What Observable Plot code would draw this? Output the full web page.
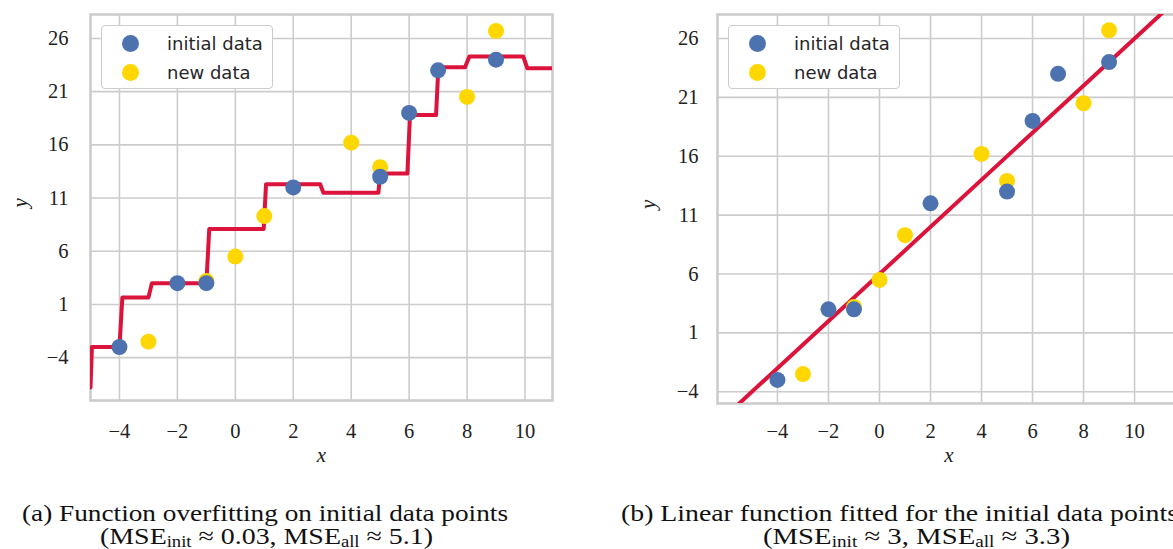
<!DOCTYPE html>
<html>
<head>
<meta charset="utf-8">
<script src="https://cdn.jsdelivr.net/npm/d3@7"></script>
<script src="https://cdn.jsdelivr.net/npm/@observablehq/plot@0.6"></script>
<style>
  html, body { margin: 0; padding: 0; background: #fff; overflow: hidden; }
  #root { position: relative; width: 1173px; height: 549px; overflow: hidden; }
  .panel { position: absolute; top: 0; }
  .legend {
    position: absolute; top: 25px; width: 170px; height: 62px;
    border: 1.5px solid #cccccc; border-radius: 4px; background: #fff;
    font-family: "DejaVu Sans", sans-serif; font-size: 18px; color: #262626;
  }
  .legend .row { position: absolute; left: 0; height: 20px; }
  .legend .sw { position: absolute; left: 20px; width: 17px; height: 17px; border-radius: 50%; top: -8.5px; }
  .legend .lab { position: absolute; left: 65px; top: -12px; white-space: nowrap; line-height: 24px; }
  .caption {
    position: absolute; font-family: "Liberation Serif", serif; font-size: 24px;
    color: #111; white-space: nowrap; line-height: 1; transform-origin: 0 50%;
  }
  .caption sub { font-size: 16px; vertical-align: -3px; line-height: 0; }
</style>
</head>
<body>
<div id="root"></div>
<script>
// Observations used by both panels
const initX = [-4, -2, -1, 2, 5, 6, 7, 9];
const initY = [-3, 3, 3, 12, 13, 19, 23, 24];
const newX = [-3, -1, 0, 1, 4, 5, 8, 9];
const newY = [-2.5, 3.2, 5.5, 9.3, 16.2, 13.9, 20.5, 26.7];

// Overfitted staircase function (left panel)
const stepX = [-5, -4.95, -4.0, -3.9, -3.0, -2.88, -1.0, -0.9, 0.98, 1.06, 2.93, 3.04, 4.94, 5.0, 5.94, 6.03, 6.93, 7.01, 7.93, 8.08, 9.94, 10.08, 10.95];
const stepY = [-6.8, -3.0, -3.0, 1.65, 1.65, 3.0, 3.0, 8.1, 8.1, 12.3, 12.3, 11.5, 11.5, 13.3, 13.3, 18.8, 18.8, 23.3, 23.3, 24.3, 24.3, 23.2, 23.2];

// Linear fit (right panel)
const fitSlope = 2;
const fitIntercept = 6;

const xTicks = [-4, -2, 0, 2, 4, 6, 8, 10];
const yTicks = [-4, 1, 6, 11, 16, 21, 26];

const blue = "#4c72b0";
const gold = "#ffd700";
const red = "#dc143c";
const gridColor = "#cccccc";

const initRows = initX.map((x, i) => ({x, y: initY[i]}));
const newRows = newX.map((x, i) => ({x, y: newY[i]}));
const stepRows = stepX.map((x, i) => ({x, y: stepY[i]}));

function panel(o) {
  return Plot.plot({
    width: o.width, height: 470,
    marginLeft: o.marginLeft, marginRight: o.marginRight,
    marginTop: 14, marginBottom: o.marginBottom,
    style: {fontFamily: "'Liberation Serif', serif", fontSize: "20.5px", color: "#222", background: "transparent", overflow: "visible"},
    x: {domain: o.xDomain, ticks: xTicks, tickSize: 0, tickPadding: o.xPad, label: null},
    y: {domain: o.yDomain, ticks: yTicks, tickSize: 0, tickPadding: o.yPad, label: null},
    marks: [
      Plot.gridX(xTicks, {stroke: gridColor, strokeOpacity: 1, strokeWidth: 1.6}),
      Plot.gridY(yTicks, {stroke: gridColor, strokeOpacity: 1, strokeWidth: 1.6}),
      Plot.frame({stroke: gridColor, strokeWidth: 2.6}),
      Plot.axisX({ticks: xTicks, tickSize: 0, tickPadding: o.xPad}),
      Plot.axisY({ticks: yTicks, tickSize: 0, tickPadding: o.yPad}),
      Plot.line(o.curve, {x: "x", y: "y", stroke: red, strokeWidth: 4, clip: true}),
      Plot.dot(newRows, {x: "x", y: "y", r: 8, fill: gold}),
      Plot.dot(initRows, {x: "x", y: "y", r: 8, fill: blue}),
      Plot.text(["x"], {frameAnchor: "bottom", dy: o.xLabelDy, fontStyle: "italic", fontSize: 21, fill: "#222"}),
      Plot.text(["y"], {frameAnchor: "left", dx: o.yLabelDx, rotate: -90, fontStyle: "italic", fontSize: 21, fill: "#222"})
    ]
  });
}

const root = document.getElementById("root");

function place(el, left) {
  el.classList.add("panel");
  el.style.left = left + "px";
  root.appendChild(el);
}

// (a) overfitting staircase
const left = panel({
  width: 600, marginLeft: 90, marginRight: 48, marginBottom: 70,
  xDomain: [-5, 10.95], yDomain: [-8.03, 28.25],
  xPad: 22.5, yPad: 22, xLabelDy: 61, yLabelDx: -70,
  curve: stepRows
});
place(left, 0);

// (b) straight line
const xb = [-6.35, 11.8];
const fitRows = xb.map(x => ({x, y: fitSlope * x + fitIntercept}));
const right = panel({
  width: 600, marginLeft: 117, marginRight: 600 - 580, marginBottom: 67,
  xDomain: xb, yDomain: [-5.0, 28.04],
  xPad: 19.5, yPad: 19, xLabelDy: 58.5, yLabelDx: -69,
  curve: fitRows
});
place(right, 600);

function legend(left) {
  const box = document.createElement("div");
  box.className = "legend";
  box.style.left = left + "px";
  [["initial data", blue, 17.5], ["new data", gold, 46.5]].forEach(([label, color, cy]) => {
    const row = document.createElement("div");
    row.className = "row";
    row.style.top = cy + "px";
    row.innerHTML = `<span class="sw" style="background:${color}"></span><span class="lab">${label}</span>`;
    box.appendChild(row);
  });
  root.appendChild(box);
}
legend(101);
legend(728);

// Captions are stretched horizontally to the width of the serif text they stand in for
function caption(html, x0, width, top) {
  const d = document.createElement("div");
  d.className = "caption";
  d.innerHTML = html;
  d.style.top = top + "px";
  d.style.left = x0 + "px";
  root.appendChild(d);
  const s = width / d.getBoundingClientRect().width;
  d.style.transform = `scaleX(${s})`;
}
caption("(a) Function overfitting on initial data points", 22, 486, 501);
caption("(MSE<sub>init</sub> ≈ 0.03, MSE<sub>all</sub> ≈ 5.1)", 100, 333, 524);
caption("(b) Linear function fitted for the initial data points", 621, 557, 501);
caption("(MSE<sub>init</sub> ≈ 3, MSE<sub>all</sub> ≈ 3.3)", 763, 307, 524);
</script>
</body>
</html>
